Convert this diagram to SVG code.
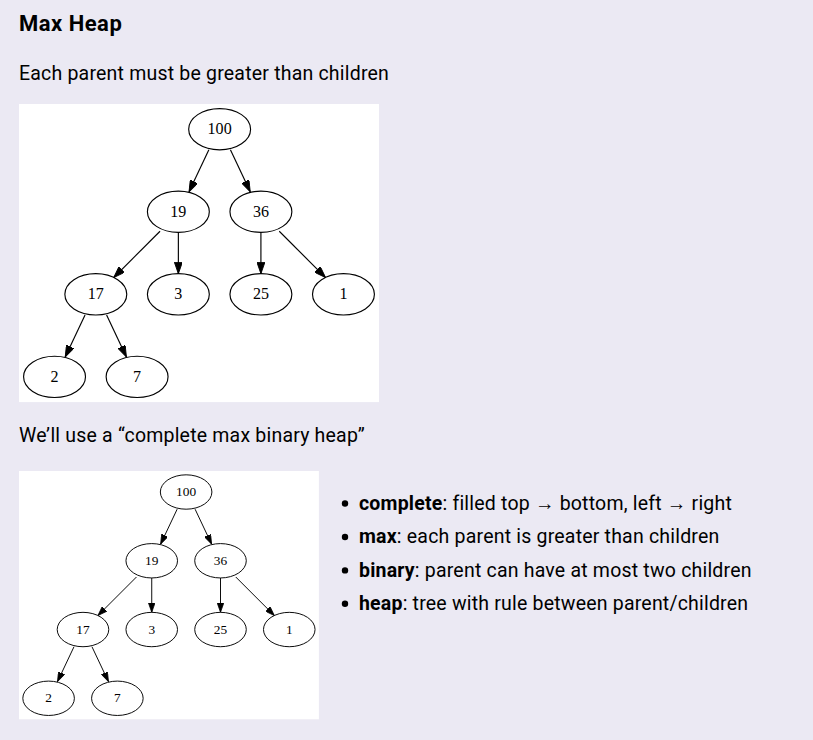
<svg xmlns="http://www.w3.org/2000/svg" width="813" height="740" viewBox="0 0 813 740">
<style>
.bg{fill:#EBE9F3}
.h{font-family:Roboto,"Liberation Sans",sans-serif;font-size:22px;letter-spacing:0.5px;font-weight:bold;fill:#000}
.p{font-family:Roboto,"Liberation Sans",sans-serif;font-size:19.5px;letter-spacing:0.2px;fill:#000}
.b{font-weight:bold}
.panel{fill:#fff}
.node ellipse{fill:none;stroke:#000;stroke-width:1}
.node text{font-family:"Liberation Serif","Times New Roman",serif;font-size:14px;text-anchor:middle;fill:#000}
.edge{stroke:#000;stroke-width:1;fill:none;marker-end:url(#arr)}
</style>
<defs>
<marker id="arr" viewBox="0 0 10 7" refX="10" refY="3.5" markerWidth="10" markerHeight="7" markerUnits="userSpaceOnUse" orient="auto">
<path d="M0,0 L10,3.5 L0,7 Z" fill="#000" stroke="#000" stroke-width="0.8"/>
</marker>
</defs>
<rect class="bg" x="0" y="0" width="813" height="740"/>
<text class="h" x="19" y="31">Max Heap</text>
<text class="p" x="19" y="80">Each parent must be greater than children</text>

<g id="graph1" transform="translate(19,104) scale(1.1465)">
<rect class="panel" x="0" y="0" width="314" height="260"/>
<g id="g1-edges">
<path class="edge" d="M165.6,40 L148.3,76.6"/>
<path class="edge" d="M184.4,40 L201.7,76.6"/>
<path class="edge" d="M123,111 L82.6,151.4"/>
<path class="edge" d="M139,112 L139,148"/>
<path class="edge" d="M211,112 L211,148"/>
<path class="edge" d="M227,111 L267.4,151.4"/>
<path class="edge" d="M57.6,184 L40.3,220.6"/>
<path class="edge" d="M76.4,184 L93.7,220.6"/>
</g>
<g id="g1-n100" class="node"><ellipse cx="175" cy="22" rx="27" ry="18"/><text x="175" y="26.2">100</text></g>
<g id="g1-n19" class="node"><ellipse cx="139" cy="94" rx="27" ry="18"/><text x="139" y="98.2">19</text></g>
<g id="g1-n36" class="node"><ellipse cx="211" cy="94" rx="27" ry="18"/><text x="211" y="98.2">36</text></g>
<g id="g1-n17" class="node"><ellipse cx="67" cy="166" rx="27" ry="18"/><text x="67" y="170.2">17</text></g>
<g id="g1-n3" class="node"><ellipse cx="139" cy="166" rx="27" ry="18"/><text x="139" y="170.2">3</text></g>
<g id="g1-n25" class="node"><ellipse cx="211" cy="166" rx="27" ry="18"/><text x="211" y="170.2">25</text></g>
<g id="g1-n1" class="node"><ellipse cx="283" cy="166" rx="27" ry="18"/><text x="283" y="170.2">1</text></g>
<g id="g1-n2" class="node"><ellipse cx="31" cy="238" rx="27" ry="18"/><text x="31" y="242.2">2</text></g>
<g id="g1-n7" class="node"><ellipse cx="103" cy="238" rx="27" ry="18"/><text x="103" y="242.2">7</text></g>
</g>

<text class="p" x="19" y="442">We’ll use a “complete max binary heap”</text>

<g id="graph2" transform="translate(19,471) scale(0.955)">
<rect class="panel" x="0" y="0" width="314" height="260"/>
<g id="g2-edges">
<path class="edge" d="M165.6,40 L148.3,76.6"/>
<path class="edge" d="M184.4,40 L201.7,76.6"/>
<path class="edge" d="M123,111 L82.6,151.4"/>
<path class="edge" d="M139,112 L139,148"/>
<path class="edge" d="M211,112 L211,148"/>
<path class="edge" d="M227,111 L267.4,151.4"/>
<path class="edge" d="M57.6,184 L40.3,220.6"/>
<path class="edge" d="M76.4,184 L93.7,220.6"/>
</g>
<g id="g2-n100" class="node"><ellipse cx="175" cy="22" rx="27" ry="18"/><text x="175" y="26.2">100</text></g>
<g id="g2-n19" class="node"><ellipse cx="139" cy="94" rx="27" ry="18"/><text x="139" y="98.2">19</text></g>
<g id="g2-n36" class="node"><ellipse cx="211" cy="94" rx="27" ry="18"/><text x="211" y="98.2">36</text></g>
<g id="g2-n17" class="node"><ellipse cx="67" cy="166" rx="27" ry="18"/><text x="67" y="170.2">17</text></g>
<g id="g2-n3" class="node"><ellipse cx="139" cy="166" rx="27" ry="18"/><text x="139" y="170.2">3</text></g>
<g id="g2-n25" class="node"><ellipse cx="211" cy="166" rx="27" ry="18"/><text x="211" y="170.2">25</text></g>
<g id="g2-n1" class="node"><ellipse cx="283" cy="166" rx="27" ry="18"/><text x="283" y="170.2">1</text></g>
<g id="g2-n2" class="node"><ellipse cx="31" cy="238" rx="27" ry="18"/><text x="31" y="242.2">2</text></g>
<g id="g2-n7" class="node"><ellipse cx="103" cy="238" rx="27" ry="18"/><text x="103" y="242.2">7</text></g>
</g>

<g id="bullets">
<circle cx="345" cy="503.5" r="3.2" fill="#000"/>
<text class="p" x="359" y="510"><tspan class="b">complete</tspan>: filled top → bottom, left → right</text>
<circle cx="345" cy="537" r="3.2" fill="#000"/>
<text class="p" x="359" y="543.4"><tspan class="b">max</tspan>: each parent is greater than children</text>
<circle cx="345" cy="570.4" r="3.2" fill="#000"/>
<text class="p" x="359" y="576.8"><tspan class="b">binary</tspan>: parent can have at most two children</text>
<circle cx="345" cy="603.7" r="3.2" fill="#000"/>
<text class="p" x="359" y="610.2"><tspan class="b">heap</tspan>: tree with rule between parent/children</text>
</g>
</svg>
